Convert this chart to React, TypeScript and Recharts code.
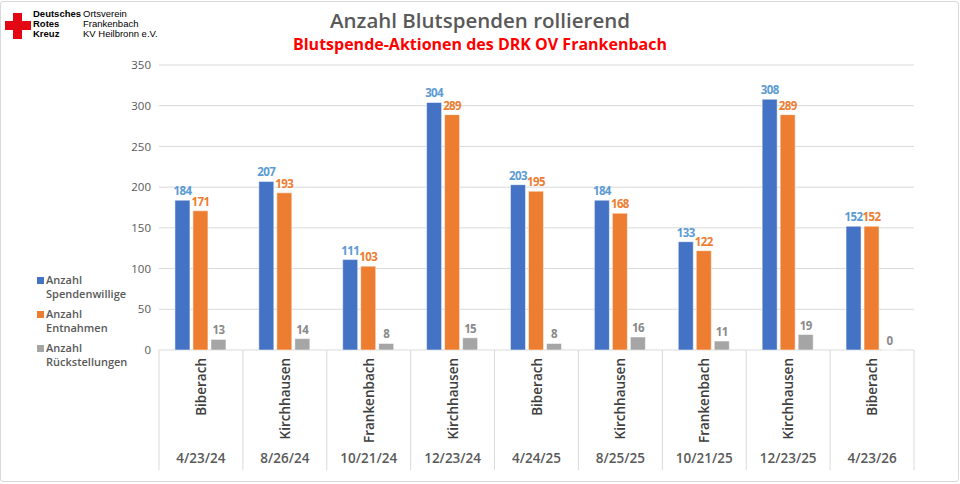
import React from 'react';
import { BarChart, Bar, XAxis, YAxis, CartesianGrid, LabelList, Legend } from 'recharts';

const locations = ['Biberach', 'Kirchhausen', 'Frankenbach', 'Kirchhausen', 'Biberach', 'Kirchhausen', 'Frankenbach', 'Kirchhausen', 'Biberach'];
const dates = ['4/23/24', '8/26/24', '10/21/24', '12/23/24', '4/24/25', '8/25/25', '10/21/25', '12/23/25', '4/23/26'];
const spendenwillige = [184, 207, 111, 304, 203, 184, 133, 308, 152];
const entnahmen = [171, 193, 103, 289, 195, 168, 122, 289, 152];
const rueckstellungen = [13, 14, 8, 15, 8, 16, 11, 19, 0];
const yTicks = [0, 50, 100, 150, 200, 250, 300, 350];

const data = locations.map((loc, i) => ({
  key: `${i}`,
  loc,
  date: dates[i],
  s: spendenwillige[i],
  e: entnahmen[i],
  r: rueckstellungen[i],
}));

const FONT = '"Open Sans", "DejaVu Sans", sans-serif';
const SEP = '#d9d9d9';

const series = [
  { key: 's', name: ['Anzahl', 'Spendenwillige'], fill: '#4472c4', label: '#5b9bd5' },
  { key: 'e', name: ['Anzahl', 'Entnahmen'], fill: '#ed7d31', label: '#ed7d31' },
  { key: 'r', name: ['Anzahl', 'Rückstellungen'], fill: '#a5a5a5', label: '#8a8a8a' },
];

const LocTick = (props: any) => {
  const { x, y, payload, index } = props;
  const half = payload.offset || 42;
  const idx = index ?? payload.index;
  return (
    <g>
      <line x1={x - half} x2={x - half} y1={y} y2={y + 120} stroke={SEP} />
      {idx === locations.length - 1 && (
        <line x1={x + half} x2={x + half} y1={y} y2={y + 120} stroke={SEP} />
      )}
      <text
        x={x}
        y={y + 8}
        transform={`rotate(-90, ${x}, ${y + 8})`}
        textAnchor="end"
        dominantBaseline="central"
        fill="#404040"
        fontSize={13.5}
        fontWeight={600}
        fontFamily={FONT}
      >
        {locations[idx] ?? payload.value}
      </text>
    </g>
  );
};

const DateTick = (props: any) => {
  const { x, y, payload, index } = props;
  return (
    <text
      x={x}
      y={y + 18}
      textAnchor="middle"
      fill="#595959"
      fontSize={13.5}
      fontWeight={600}
      fontFamily={FONT}
    >
      {dates[index] ?? payload.value}
    </text>
  );
};

const LegendContent = () => (
  <div style={{ fontFamily: FONT, fontSize: 11, color: '#595959', fontWeight: 600, lineHeight: '14px' }}>
    {series.map((s) => (
      <div key={s.key} style={{ display: 'flex', alignItems: 'flex-start', marginBottom: 6 }}>
        <div style={{ width: 7, height: 7, background: s.fill, marginTop: 4, marginRight: 2 }} />
        <div>
          {s.name[0]}
          <br />
          {s.name[1]}
        </div>
      </div>
    ))}
  </div>
);

export default function App() {
  return (
    <div style={{ position: 'absolute', left: 0, top: 0, width: 960, height: 484, background: '#fff', fontFamily: FONT }}>
      <div
        style={{
          position: 'absolute',
          left: 0,
          top: 1,
          width: 957,
          height: 479,
          border: '1px solid #d9d9d9',
          borderRadius: 3,
          boxSizing: 'content-box',
        }}
      />
      <BarChart
        width={960}
        height={484}
        data={data}
        margin={{ top: 65, right: 46, bottom: 14, left: 0 }}
        barCategoryGap="19%"
        barGap={3}
      >
        <CartesianGrid vertical={false} stroke={SEP} />
        <XAxis
          xAxisId="b"
          dataKey="date"
          height={25}
          axisLine={false}
          tickLine={false}
          interval={0}
          tick={<DateTick />}
          tickMargin={0}
          tickSize={0}
        />
        <XAxis
          xAxisId="a"
          dataKey="key"
          height={95}
          axisLine={false}
          tickLine={false}
          interval={0}
          tick={<LocTick />}
          tickMargin={0}
          tickSize={0}
        />
        <YAxis
          width={159}
          domain={[0, 350]}
          ticks={yTicks}
          axisLine={false}
          tickLine={false}
          tick={{ fill: '#595959', fontSize: 11.5, fontFamily: FONT }}
        />
        <Legend
          layout="vertical"
          align="center"
          verticalAlign="middle"
          content={<LegendContent />}
          wrapperStyle={{ left: 37, top: 273, width: 130, height: 80 }}
        />
        {series.map((s) => (
          <Bar
            key={s.key}
            xAxisId="a"
            dataKey={s.key}
            fill={s.fill}
            stroke="#ffffff"
            strokeOpacity={0.5}
            strokeWidth={1}
            minPointSize={(v: number) => (v === 0 ? 0.01 : 0)}
            isAnimationActive={false}
          >
            <LabelList
              dataKey={s.key}
              position="top"
              offset={5}
              fill={s.label}
              fontSize={11.5}
              fontWeight={700}
              letterSpacing={-0.6}
              fontFamily={FONT}
            />
          </Bar>
        ))}
      </BarChart>
      <div style={{ position: 'absolute', left: 0, top: 6, width: 960, textAlign: 'center', fontSize: 20.5, fontWeight: 600, color: '#595959' }}>
        Anzahl Blutspenden rollierend
      </div>
      <div style={{ position: 'absolute', left: 0, top: 33, width: 960, textAlign: 'center', fontSize: 16, fontWeight: 700, color: '#ff0000' }}>
        Blutspende-Aktionen des DRK OV Frankenbach
      </div>
      <div style={{ position: 'absolute', left: 5, top: 21, width: 26, height: 9, background: '#e30613' }} />
      <div style={{ position: 'absolute', left: 13, top: 13, width: 9, height: 26, background: '#e30613' }} />
      <div style={{ position: 'absolute', left: 33, top: 9, fontFamily: '"Liberation Sans", Arial, sans-serif', fontSize: 9.5, lineHeight: '10px', fontWeight: 700, color: '#000' }}>
        Deutsches<br />Rotes<br />Kreuz
      </div>
      <div style={{ position: 'absolute', left: 83, top: 9, fontFamily: '"Liberation Sans", Arial, sans-serif', fontSize: 9.5, lineHeight: '10px', color: '#000' }}>
        Ortsverein<br />Frankenbach<br />KV Heilbronn e.V.
      </div>
    </div>
  );
}
